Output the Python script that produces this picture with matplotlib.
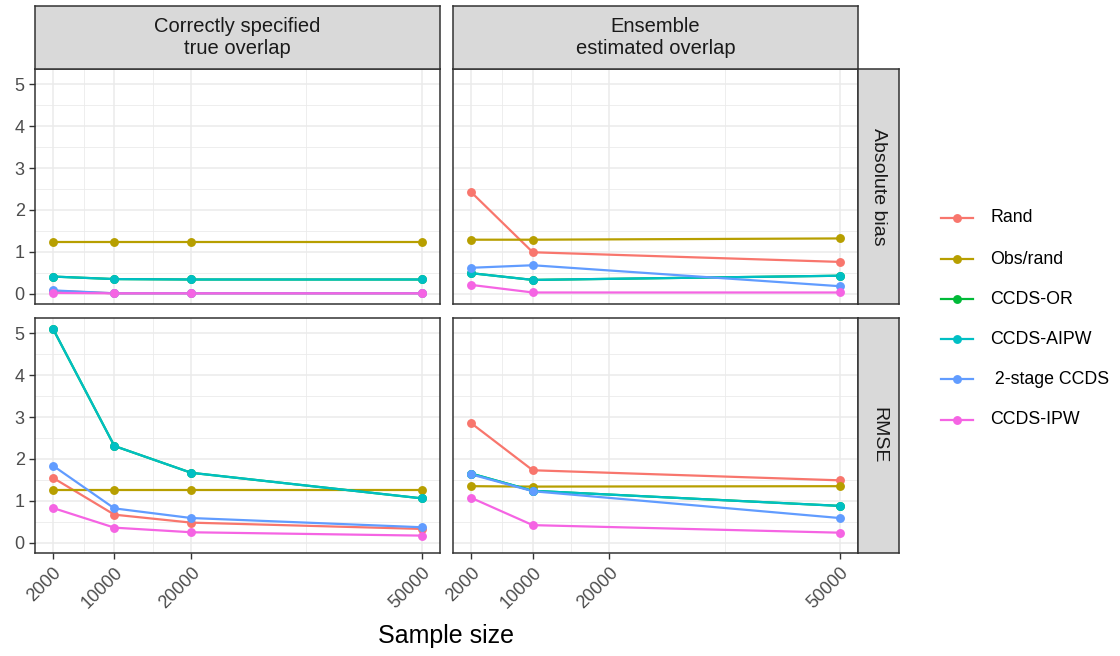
import numpy as np
import matplotlib
matplotlib.use("Agg")
import matplotlib.pyplot as plt
from matplotlib.lines import Line2D
from matplotlib.ticker import FixedLocator

plt.rcParams["font.family"] = ["Liberation Sans", "DejaVu Sans"]

# ---- data -------------------------------------------------------------
sample_sizes = [2000, 10000, 20000, 50000]
x_tick_labels = ["2000", "10000", "20000", "50000"]
methods = ["Rand", "Obs/rand", "CCDS-OR", "CCDS-AIPW", " 2-stage CCDS", "CCDS-IPW"]
colors = ["#F8766D", "#B79F00", "#00BA38", "#00BFC4", "#619CFF", "#F564E3"]
col_titles = ["Correctly specified\ntrue overlap", "Ensemble\nestimated overlap"]
row_titles = ["Absolute bias", "RMSE"]

# Absolute bias, correctly specified (true overlap)
bias_true_rand = [0.07, 0.01, 0.01, 0.01]
bias_true_obs = [1.23, 1.23, 1.23, 1.23]
bias_true_or = [0.41, 0.35, 0.34, 0.34]
bias_true_aipw = [0.41, 0.35, 0.34, 0.34]
bias_true_2stage = [0.08, 0.01, 0.01, 0.01]
bias_true_ipw = [0.02, 0.01, 0.01, 0.01]

# Absolute bias, ensemble (estimated overlap); no run at n = 20000
bias_ens_rand = [2.42, 0.99, None, 0.76]
bias_ens_obs = [1.29, 1.29, None, 1.32]
bias_ens_or = [0.49, 0.33, None, 0.43]
bias_ens_aipw = [0.49, 0.33, None, 0.43]
bias_ens_2stage = [0.62, 0.68, None, 0.18]
bias_ens_ipw = [0.21, 0.03, None, 0.03]

# RMSE, correctly specified (true overlap)
rmse_true_rand = [1.55, 0.67, 0.48, 0.33]
rmse_true_obs = [1.26, 1.26, 1.26, 1.26]
rmse_true_or = [5.11, 2.31, 1.67, 1.06]
rmse_true_aipw = [5.11, 2.31, 1.67, 1.06]
rmse_true_2stage = [1.84, 0.82, 0.59, 0.37]
rmse_true_ipw = [0.83, 0.36, 0.25, 0.17]

# RMSE, ensemble (estimated overlap)
rmse_ens_rand = [2.85, 1.73, None, 1.49]
rmse_ens_obs = [1.35, 1.34, None, 1.35]
rmse_ens_or = [1.65, 1.24, None, 0.88]
rmse_ens_aipw = [1.65, 1.24, None, 0.88]
rmse_ens_2stage = [1.63, 1.23, None, 0.59]
rmse_ens_ipw = [1.07, 0.42, None, 0.24]

panels = {
    (0, 0): [bias_true_rand, bias_true_obs, bias_true_or, bias_true_aipw, bias_true_2stage, bias_true_ipw],
    (0, 1): [bias_ens_rand, bias_ens_obs, bias_ens_or, bias_ens_aipw, bias_ens_2stage, bias_ens_ipw],
    (1, 0): [rmse_true_rand, rmse_true_obs, rmse_true_or, rmse_true_aipw, rmse_true_2stage, rmse_true_ipw],
    (1, 1): [rmse_ens_rand, rmse_ens_obs, rmse_ens_or, rmse_ens_aipw, rmse_ens_2stage, rmse_ens_ipw],
}

# ---- styling ----------------------------------------------------------
W, H = 1120, 656
fig = plt.figure(figsize=(W / 100, H / 100), dpi=100)

GRID = "#EBEBEB"
BORDER = "#333333"
STRIP = "#D9D9D9"
TICKTXT = "#4D4D4D"

def fx(px):
    return px / W

def fy(py):
    return 1 - py / H

col_x = [(34.5, 440.0), (453.0, 858.0)]
row_y = [(69.0, 304.0), (318.0, 553.0)]

all_vals = [v for series in panels.values() for s in series for v in s if v is not None]
lo, hi = min(all_vals), max(all_vals)
ypad = 0.05 * (hi - lo)
ylim = (lo - ypad, hi + ypad)
xpad = 0.05 * (max(sample_sizes) - min(sample_sizes))
xlim = (min(sample_sizes) - xpad, max(sample_sizes) + xpad)

x_minor = [(a + b) / 2 for a, b in zip(sample_sizes[:-1], sample_sizes[1:])]
y_major = [0, 1, 2, 3, 4, 5]
y_minor = [0.5, 1.5, 2.5, 3.5, 4.5]

for (r, c), series in panels.items():
    x0, x1 = col_x[c]
    y0, y1 = row_y[r]
    ax = fig.add_axes([fx(x0), fy(y1), fx(x1 - x0), (y1 - y0) / H])
    ax.set_xlim(*xlim)
    ax.set_ylim(*ylim)
    ax.xaxis.set_major_locator(FixedLocator(sample_sizes))
    ax.xaxis.set_minor_locator(FixedLocator(x_minor))
    ax.yaxis.set_major_locator(FixedLocator(y_major))
    ax.yaxis.set_minor_locator(FixedLocator(y_minor))
    ax.grid(which="major", color=GRID, lw=1.1, zorder=0)
    ax.grid(which="minor", color=GRID, lw=0.6, zorder=0)
    ax.set_axisbelow(True)
    for sp in ax.spines.values():
        sp.set_color(BORDER)
        sp.set_linewidth(1.1)
    ax.tick_params(which="minor", length=0)
    ax.tick_params(which="major", length=4, width=1.0, color=BORDER,
                   labelcolor=TICKTXT, labelsize=13)
    if c == 0:
        ax.tick_params(axis="y", pad=3)
        ax.set_yticklabels([str(v) for v in y_major])
    else:
        ax.tick_params(axis="y", length=0, labelleft=False)
    if r == 1:
        ax.set_xticklabels(x_tick_labels, rotation=45, ha="right", va="top",
                           rotation_mode="anchor")
        ax.tick_params(axis="x", pad=4)
    else:
        ax.tick_params(axis="x", length=0, labelbottom=False)

    # lines first, then points on top (as layered)
    pts = []
    for vals, col in zip(series, colors):
        xs = [x for x, v in zip(sample_sizes, vals) if v is not None]
        ys = [v for v in vals if v is not None]
        ax.plot(xs, ys, color=col, lw=1.6, zorder=2, solid_capstyle="butt")
        pts.append((xs, ys, col))
    for xs, ys, col in pts:
        ax.plot(xs, ys, ls="none", marker="o", ms=6.4, color=col,
                markeredgewidth=0, zorder=3)

# column strips
for c, title in enumerate(col_titles):
    x0, x1 = col_x[c]
    sax = fig.add_axes([fx(x0), fy(69), fx(x1 - x0), 63 / H])
    sax.set_facecolor(STRIP)
    sax.set_xticks([]); sax.set_yticks([])
    for sp in sax.spines.values():
        sp.set_color(BORDER); sp.set_linewidth(1.1)
    sax.text(0.5, 0.5, title, ha="center", va="center", fontsize=14.5,
             color="#1A1A1A", linespacing=1.15, transform=sax.transAxes)

# row strips
for r, title in enumerate(row_titles):
    y0, y1 = row_y[r]
    sax = fig.add_axes([fx(858), fy(y1), fx(41), (y1 - y0) / H])
    sax.set_facecolor(STRIP)
    sax.set_xticks([]); sax.set_yticks([])
    for sp in sax.spines.values():
        sp.set_color(BORDER); sp.set_linewidth(1.1)
    sax.text(0.5, 0.5, title, ha="center", va="center", fontsize=14,
             color="#1A1A1A", rotation=-90, transform=sax.transAxes)

# axis title
fig.text(fx(446), fy(636), "Sample size", ha="center", va="center",
         fontsize=18, color="black")

# legend
leg_rows = [218, 259, 299, 339, 379, 420]
for name, col, py in zip(methods, colors, leg_rows):
    fig.add_artist(Line2D([fx(941), fx(973)], [fy(py), fy(py)], color=col,
                          lw=1.6, transform=fig.transFigure))
    fig.add_artist(Line2D([fx(957)], [fy(py)], color=col, marker="o", ms=6.4,
                          markeredgewidth=0, transform=fig.transFigure))
    fig.text(fx(990), fy(py), name, ha="left", va="center", fontsize=12.8,
             color="black")

fig.savefig("out.png", dpi=100)
